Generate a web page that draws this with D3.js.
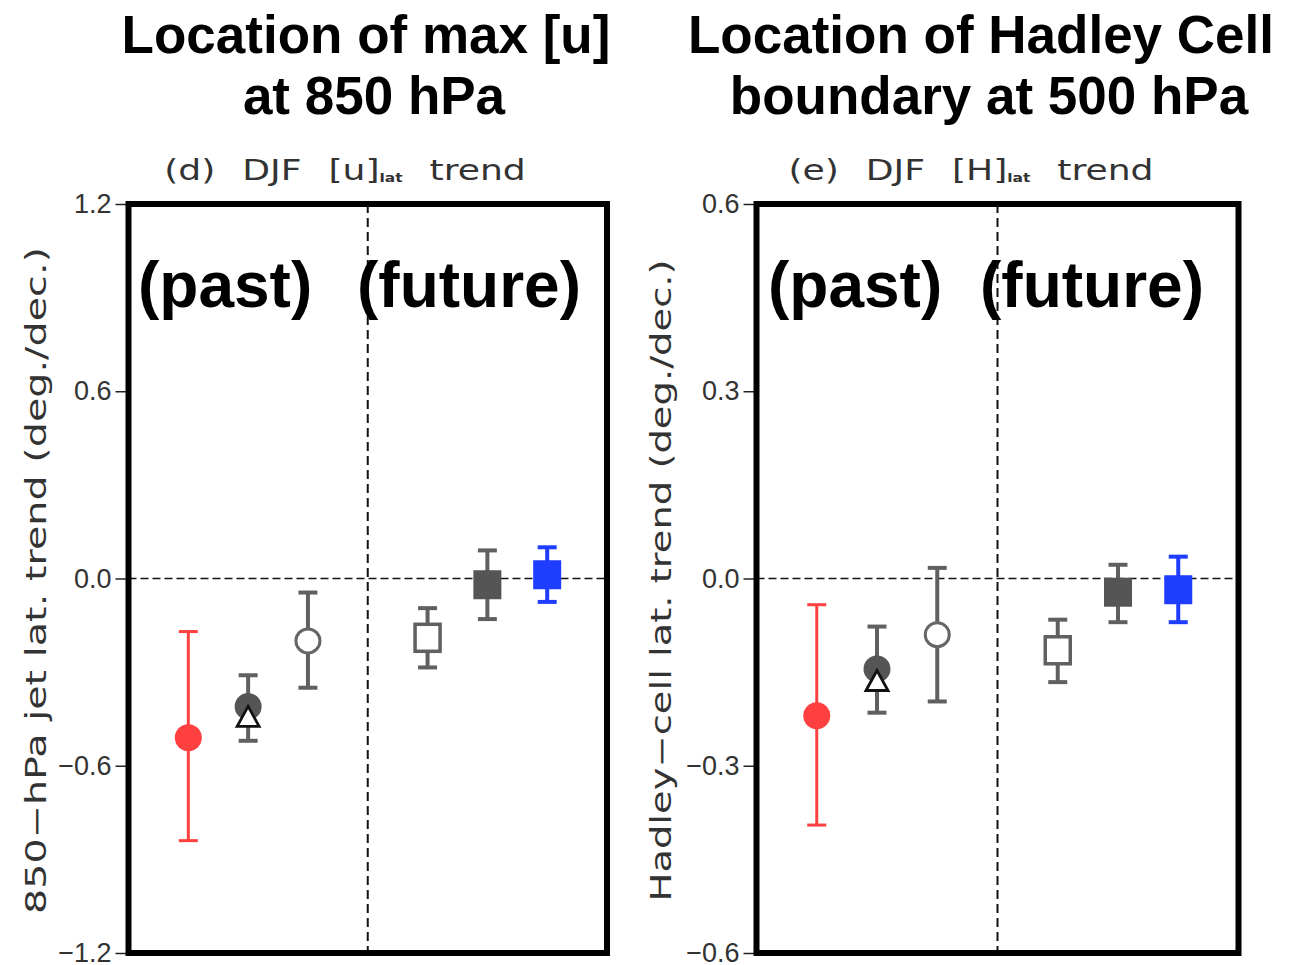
<!DOCTYPE html>
<html>
<head>
<meta charset="utf-8">
<script src="https://cdn.jsdelivr.net/npm/d3@7"></script>
<style>
  html, body { margin: 0; padding: 0; background: #fff; }
  svg { display: block; }
</style>
</head>
<body>
<div id="chart"></div>
<script>
// Slots along x: 3 past estimates, gap (divider), 3 future estimates
const slots = [1, 2, 3, 5, 6, 7];

// (d) 850-hPa jet latitude trend
const jetMean = [-0.51, -0.41, -0.20, -0.19, -0.02, 0.012];
const jetLow  = [-0.84, -0.52, -0.35, -0.285, -0.13, -0.075];
const jetHigh = [-0.17, -0.31, -0.045, -0.095, 0.09, 0.10];
const jetTriangle = -0.445;          // open triangle drawn at slot 2
const jetTicks = [1.2, 0.6, 0.0, -0.6, -1.2];

// (e) Hadley-cell boundary latitude trend
const hadMean = [-0.22, -0.145, -0.09, -0.115, -0.022, -0.018];
const hadLow  = [-0.395, -0.215, -0.197, -0.166, -0.07, -0.07];
const hadHigh = [-0.042, -0.077, 0.017, -0.066, 0.022, 0.035];
const hadTriangle = -0.165;
const hadTicks = [0.6, 0.3, 0.0, -0.3, -0.6];

// marker look for each slot
const markerStyle = [
  { shape: "circle", fill: "#ff4040", stroke: "none", bar: "#ff4040", barWidth: 3 },
  { shape: "circle", fill: "#555555", stroke: "none", bar: "#606060", barWidth: 4 },
  { shape: "circle", fill: "#ffffff", stroke: "#666666", bar: "#606060", barWidth: 4 },
  { shape: "square", fill: "#ffffff", stroke: "#606060", bar: "#606060", barWidth: 4 },
  { shape: "square", fill: "#555555", stroke: "none", bar: "#606060", barWidth: 4 },
  { shape: "square", fill: "#1f3dff", stroke: "none", bar: "#1f3dff", barWidth: 4 }
];

var width = 1290, height = 965;

var svg = d3.select("#chart").append("svg")
    .attr("width", width)
    .attr("height", height);

function drawPanel(opt) {
    var x = d3.scaleLinear().domain([0, 8]).range([opt.left, opt.right]);
    var y = d3.scaleLinear().domain(opt.domain).range([opt.bottom, opt.top]);

    var g = svg.append("g");

    // Titles
    g.append("text")
        .attr("x", opt.titleX).attr("y", 53)
        .attr("text-anchor", "middle")
        .style("font-family", "Liberation Sans, Arial, sans-serif")
        .style("font-weight", "bold")
        .style("font-size", "53px")
        .text(opt.title1);
    g.append("text")
        .attr("x", opt.titleX2).attr("y", 114)
        .attr("text-anchor", "middle")
        .style("font-family", "Liberation Sans, Arial, sans-serif")
        .style("font-weight", "bold")
        .style("font-size", "53px")
        .text(opt.title2);

    // Subtitle with subscript "lat" (wide, plotting-package style lettering)
    var sub = g.append("text")
        .attr("transform", "translate(" + opt.subX + ",180) scale(1.29,1)")
        .attr("text-anchor", "middle")
        .style("font-family", "DejaVu Sans, sans-serif")
        .style("font-size", "28px")
        .style("fill", "#333")
        .style("word-spacing", "12px");
    sub.append("tspan").text(opt.subA);
    sub.append("tspan").attr("dy", 2).style("font-size", "12px").style("font-weight", "bold").text("lat");
    sub.append("tspan").attr("dy", -2).text(" trend");

    // Y axis
    var axis = d3.axisLeft(y)
        .tickValues(opt.ticks)
        .tickSize(13)
        .tickPadding(4)
        .tickFormat(d3.format(".1f"));
    var ag = g.append("g")
        .attr("transform", "translate(" + opt.left + ",0)")
        .call(axis);
    ag.select(".domain").remove();
    ag.selectAll(".tick line").attr("stroke", "#222").attr("stroke-width", 1.5);
    ag.selectAll(".tick text")
        .style("font-family", "Liberation Sans, Arial, sans-serif")
        .style("font-size", "27px")
        .style("fill", "#333");

    // Y axis title
    g.append("text")
        .attr("transform", "translate(" + opt.labelX + "," + ((opt.top + opt.bottom) / 2 + 2) + ") rotate(-90)")
        .attr("text-anchor", "middle")
        .attr("dy", "0.35em")
        .attr("textLength", opt.labelLen)
        .attr("lengthAdjust", "spacingAndGlyphs")
        .style("font-family", "DejaVu Sans, sans-serif")
        .style("font-size", "28px")
        .style("fill", "#333")
        .text(opt.ylabel);

    // Zero line and past/future divider
    g.append("line")
        .attr("x1", opt.left).attr("x2", opt.right)
        .attr("y1", y(0)).attr("y2", y(0))
        .attr("stroke", "#111").attr("stroke-width", 1.6)
        .attr("stroke-dasharray", "8,4");
    g.append("line")
        .attr("x1", x(4)).attr("x2", x(4))
        .attr("y1", opt.top).attr("y2", opt.bottom)
        .attr("stroke", "#111").attr("stroke-width", 2)
        .attr("stroke-dasharray", "9,5");

    var data = slots.map(function(s, i) {
        return { slot: s, mean: opt.mean[i], low: opt.low[i], high: opt.high[i], st: markerStyle[i] };
    });

    // Error bars
    var bars = g.selectAll(".bar").data(data).enter().append("g").attr("class", "bar");
    bars.append("line")
        .attr("x1", function(d) { return x(d.slot); })
        .attr("x2", function(d) { return x(d.slot); })
        .attr("y1", function(d) { return y(d.low); })
        .attr("y2", function(d) { return y(d.high); })
        .attr("stroke", function(d) { return d.st.bar; })
        .attr("stroke-width", function(d) { return d.st.barWidth; });
    ["low", "high"].forEach(function(k) {
        bars.append("line")
            .attr("x1", function(d) { return x(d.slot) - 9.5; })
            .attr("x2", function(d) { return x(d.slot) + 9.5; })
            .attr("y1", function(d) { return y(d[k]); })
            .attr("y2", function(d) { return y(d[k]); })
            .attr("stroke", function(d) { return d.st.bar; })
            .attr("stroke-width", function(d) { return d.st.barWidth; });
    });

    // Markers
    g.selectAll(".dot")
        .data(data.filter(function(d) { return d.st.shape === "circle"; }))
        .enter().append("circle")
        .attr("cx", function(d) { return x(d.slot); })
        .attr("cy", function(d) { return y(d.mean); })
        .attr("r", function(d) { return d.st.stroke === "none" ? 13.5 : 12; })
        .attr("fill", function(d) { return d.st.fill; })
        .attr("stroke", function(d) { return d.st.stroke; })
        .attr("stroke-width", 3);

    g.selectAll(".sq")
        .data(data.filter(function(d) { return d.st.shape === "square"; }))
        .enter().append("rect")
        .attr("x", function(d) { return x(d.slot) - (d.st.stroke === "none" ? 14 : 12.5); })
        .attr("y", function(d) { return y(d.mean) - (d.st.stroke === "none" ? 14.5 : 13.5); })
        .attr("width", function(d) { return d.st.stroke === "none" ? 28 : 25; })
        .attr("height", function(d) { return d.st.stroke === "none" ? 29 : 27; })
        .attr("fill", function(d) { return d.st.fill; })
        .attr("stroke", function(d) { return d.st.stroke; })
        .attr("stroke-width", 3.5);

    // Open triangle at slot 2
    var tx = x(slots[1]), ty = y(opt.triangle);
    g.append("path")
        .attr("d", d3.line()([[tx - 11, ty + 9], [tx, ty - 11], [tx + 11, ty + 9]]) + "Z")
        .attr("fill", "#fff")
        .attr("stroke", "#111")
        .attr("stroke-width", 2.8)
        .attr("stroke-linejoin", "miter");

    // Frame
    g.append("rect")
        .attr("x", opt.left).attr("y", opt.top)
        .attr("width", opt.right - opt.left)
        .attr("height", opt.bottom - opt.top)
        .attr("fill", "none")
        .attr("stroke", "#000")
        .attr("stroke-width", 6);

    // Past / future labels
    [["(past)", opt.pastX], ["(future)", opt.futureX]].forEach(function(p) {
        g.append("text")
            .attr("x", p[1]).attr("y", 307)
            .style("font-family", "Liberation Sans, Arial, sans-serif")
            .style("font-weight", "bold")
            .style("font-size", "64px")
            .text(p[0]);
    });
}

drawPanel({
    left: 128.5, right: 607, top: 204, bottom: 953,
    domain: [-1.2, 1.2], ticks: jetTicks,
    mean: jetMean, low: jetLow, high: jetHigh, triangle: jetTriangle,
    title1: "Location of max [u]", title2: "at 850 hPa", titleX: 366, titleX2: 374,
    subA: "(d) DJF [u]", subX: 345,
    ylabel: "850\u2212hPa jet lat. trend (deg./dec.)", labelX: 36, labelLen: 667,
    pastX: 138, futureX: 357
});

drawPanel({
    left: 756.5, right: 1238.5, top: 204, bottom: 953,
    domain: [-0.6, 0.6], ticks: hadTicks,
    mean: hadMean, low: hadLow, high: hadHigh, triangle: hadTriangle,
    title1: "Location of Hadley Cell", title2: "boundary at 500 hPa", titleX: 981, titleX2: 989,
    subA: "(e) DJF [H]", subX: 971,
    ylabel: "Hadley\u2212cell lat. trend (deg./dec.)", labelX: 661, labelLen: 642,
    pastX: 768, futureX: 980
});
</script>
</body>
</html>
